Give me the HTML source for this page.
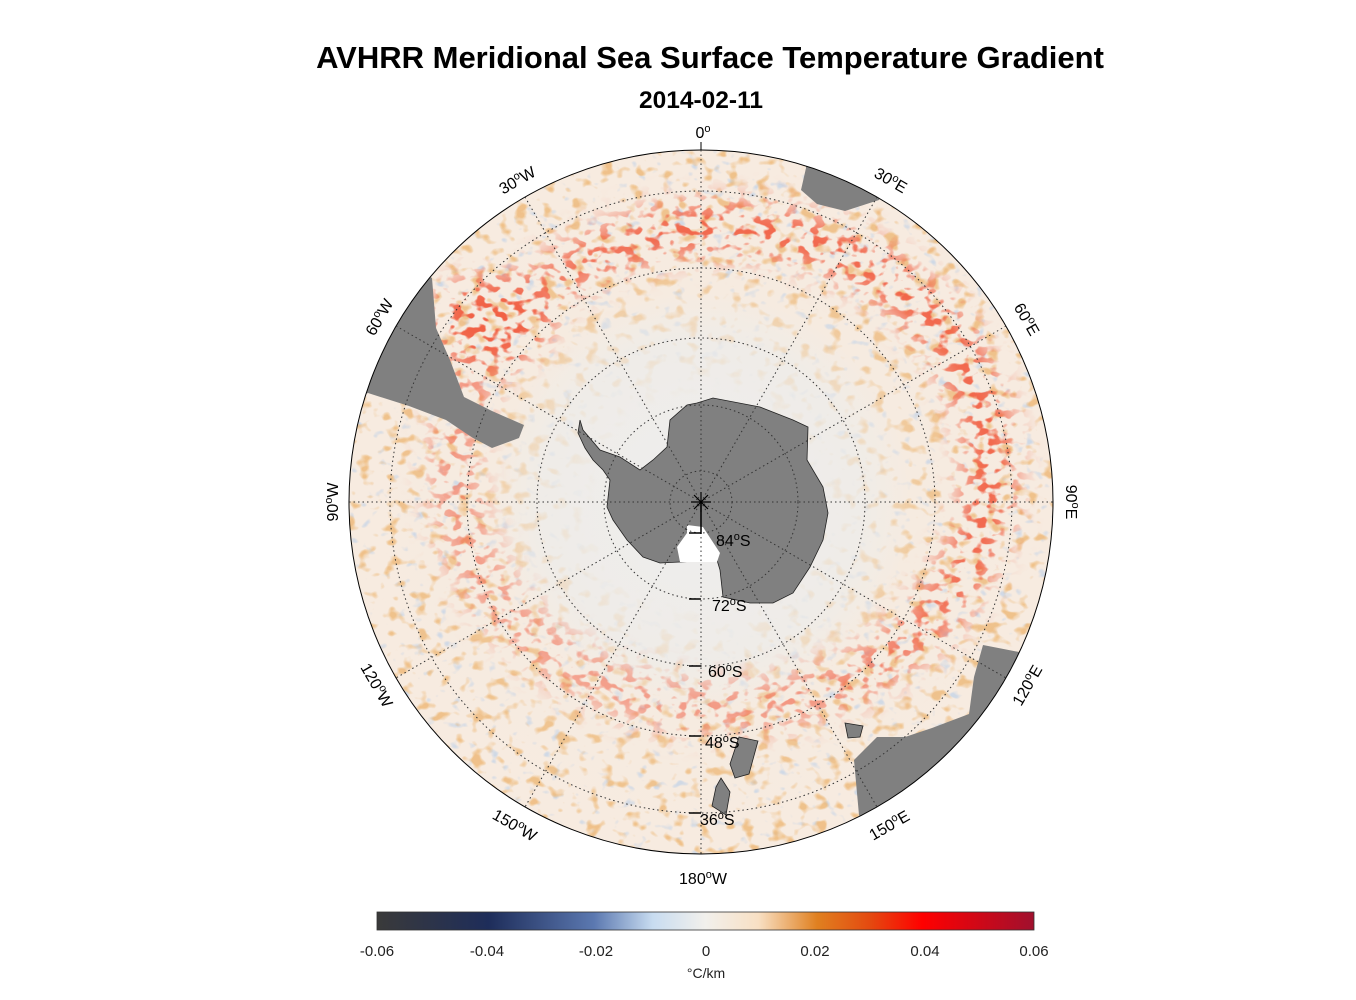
<!DOCTYPE html>
<html><head><meta charset="utf-8"><style>
html,body{margin:0;padding:0;background:#fff;}
svg{display:block;font-family:"Liberation Sans",sans-serif;}
</style></head><body>
<svg width="1356" height="1000" viewBox="0 0 1356 1000" xmlns="http://www.w3.org/2000/svg">
<defs>
<clipPath id="cc"><circle cx="701" cy="502" r="352"/></clipPath>
<radialGradient id="bg" cx="701" cy="502" r="352" gradientUnits="userSpaceOnUse">
<stop offset="0" stop-color="#eeeeee"/><stop offset="0.45" stop-color="#efece8"/><stop offset="0.6" stop-color="#f6ebe0"/><stop offset="1" stop-color="#f7ebe0"/>
</radialGradient>
<radialGradient id="mg" cx="701" cy="502" r="352" gradientUnits="userSpaceOnUse">
<stop offset="0" stop-color="#000"/><stop offset="0.3" stop-color="#000"/><stop offset="0.5" stop-color="#666"/><stop offset="0.65" stop-color="#ddd"/><stop offset="1" stop-color="#fff"/>
</radialGradient>
<linearGradient id="sg" x1="400" y1="800" x2="1000" y2="200" gradientUnits="userSpaceOnUse">
<stop offset="0" stop-color="#777"/><stop offset="0.45" stop-color="#aaa"/><stop offset="0.7" stop-color="#fff"/><stop offset="1" stop-color="#fff"/>
</linearGradient>
<mask id="mo" maskUnits="userSpaceOnUse" x="349" y="150" width="704" height="704"><rect x="349" y="150" width="704" height="704" fill="url(#mg)"/></mask>
<filter id="blur" x="-20%" y="-20%" width="140%" height="140%"><feGaussianBlur stdDeviation="14"/></filter>
<mask id="mb" maskUnits="userSpaceOnUse" x="349" y="150" width="704" height="704">
<ellipse cx="722" cy="468" rx="268" ry="240" fill="none" stroke="url(#sg)" stroke-width="50" filter="url(#blur)"/>
<ellipse cx="490" cy="320" rx="60" ry="45" fill="#fff" filter="url(#blur)"/>
</mask>
<filter id="fo" filterUnits="userSpaceOnUse" x="349" y="150" width="704" height="704">
<feTurbulence type="fractalNoise" baseFrequency="0.07 0.09" numOctaves="2" seed="3"/>
<feColorMatrix type="matrix" values="0 0 0 0 0.85  0 0 0 0 0.47  0 0 0 0 0.17  6 0 0 0 -3.4"/>
</filter>
<filter id="fr" filterUnits="userSpaceOnUse" x="349" y="150" width="704" height="704">
<feTurbulence type="fractalNoise" baseFrequency="0.08 0.11" numOctaves="2" seed="8"/>
<feColorMatrix type="matrix" values="0 0 0 0 0.88  0 0 0 0 0.12  0 0 0 0 0.06  9 0 0 0 -4.8"/>
</filter>
<filter id="fb" filterUnits="userSpaceOnUse" x="349" y="150" width="704" height="704">
<feTurbulence type="fractalNoise" baseFrequency="0.08 0.1" numOctaves="2" seed="21"/>
<feColorMatrix type="matrix" values="0 0 0 0 0.45  0 0 0 0 0.6  0 0 0 0 0.82  6 0 0 0 -3.9"/>
</filter>
<linearGradient id="cb" x1="0" x2="1" y1="0" y2="0">
<stop offset="0" stop-color="#3a3a3a"/><stop offset="0.17" stop-color="#1e2d5a"/><stop offset="0.33" stop-color="#5b78b0"/><stop offset="0.42" stop-color="#c8dcf0"/><stop offset="0.5" stop-color="#f2f0ec"/><stop offset="0.58" stop-color="#f8e0c4"/><stop offset="0.67" stop-color="#e08020"/><stop offset="0.75" stop-color="#e44a10"/><stop offset="0.83" stop-color="#ff0000"/><stop offset="1" stop-color="#a0102e"/>
</linearGradient>
</defs>
<text x="710" y="68" text-anchor="middle" font-size="31" font-weight="bold">AVHRR Meridional Sea Surface Temperature Gradient</text>
<text x="701" y="108" text-anchor="middle" font-size="24.5" font-weight="bold">2014-02-11</text>
<g clip-path="url(#cc)">
<circle cx="701" cy="502" r="352" fill="url(#bg)"/>
<g mask="url(#mo)"><rect x="349" y="150" width="704" height="704" filter="url(#fb)" opacity="0.6"/></g>
<g mask="url(#mo)"><rect x="349" y="150" width="704" height="704" filter="url(#fo)" opacity="0.8"/></g>
<g mask="url(#mb)"><rect x="349" y="150" width="704" height="704" filter="url(#fr)"/></g>
<polygon fill="#808080" points="432,278 436,328 450,360 464,397 492,411 524,425 519,438 492,448 473,438 446,420 409,406 368,393 300,420 300,200"/>
<polygon fill="#808080" points="806,168 801,190 817,204 845,211 879,200 900,150 806,140"/>
<polygon fill="#808080" points="983,645 1019,652 1100,700 900,900 859,815 854,760 877,737 905,737 932,728 969,714 974,677"/>
</g>
<circle cx="701" cy="502" r="352" fill="none" stroke="#000" stroke-width="1"/>
<polygon fill="#808080" stroke="#222" stroke-width="0.8" points="845,723 863,726 860,737 848,738"/>
<polygon fill="#808080" stroke="#222" stroke-width="0.8" points="739,737 758,741 749,774 735,778 730,764"/>
<polygon fill="#808080" stroke="#222" stroke-width="0.8" points="721,778 730,792 726,815 712,806 716,787"/>
<polygon fill="#808080" stroke="#222" stroke-width="0.8" points="697,403 713,398 760,407 793,420 808,427 807,460 823,487 828,513 823,540 810,567 793,593 773,603 750,603 723,597 720,570 717,560 680,562 660,563 643,557 627,540 613,520 607,507 610,480 603,470 593,460 585,448 578,433 580,420 583,430 600,450 620,457 640,470 653,460 667,447 670,420 687,405"/>
<polygon fill="#ffffff" points="687,525 703,527 720,553 717,562 680,562 677,547 687,533"/>
<g fill="none" stroke="#333" stroke-width="1" stroke-dasharray="1.5,3">
<circle cx="701" cy="502" r="31"/><circle cx="701" cy="502" r="97"/><circle cx="701" cy="502" r="164"/><circle cx="701" cy="502" r="234"/><circle cx="701" cy="502" r="311"/>
<line x1="701" y1="150" x2="701" y2="854"/>
<line x1="349" y1="502" x2="1053" y2="502"/>
<line x1="877" y1="197" x2="525" y2="807"/>
<line x1="525" y1="197" x2="877" y2="807"/>
<line x1="396" y1="326" x2="1006" y2="678"/>
<line x1="1006" y1="326" x2="396" y2="678"/>
</g>
<g font-size="16">
<text x="703" y="138" text-anchor="middle">0<tspan dy="-6" font-size="11">o</tspan></text>
<text x="703" y="884" text-anchor="middle">180<tspan dy="-6" font-size="11">o</tspan><tspan dy="6">W</tspan></text>
<text transform="translate(888,185) rotate(30)" text-anchor="middle">30<tspan dy="-6" font-size="11">o</tspan><tspan dy="6">E</tspan></text>
<text transform="translate(1022,322) rotate(60)" text-anchor="middle">60<tspan dy="-6" font-size="11">o</tspan><tspan dy="6">E</tspan></text>
<text transform="translate(1066,502) rotate(90)" text-anchor="middle">90<tspan dy="-6" font-size="11">o</tspan><tspan dy="6">E</tspan></text>
<text transform="translate(1032,688) rotate(-60)" text-anchor="middle">120<tspan dy="-6" font-size="11">o</tspan><tspan dy="6">E</tspan></text>
<text transform="translate(892,830) rotate(-30)" text-anchor="middle">150<tspan dy="-6" font-size="11">o</tspan><tspan dy="6">E</tspan></text>
<text transform="translate(512,830) rotate(30)" text-anchor="middle">150<tspan dy="-6" font-size="11">o</tspan><tspan dy="6">W</tspan></text>
<text transform="translate(372,688) rotate(60)" text-anchor="middle">120<tspan dy="-6" font-size="11">o</tspan><tspan dy="6">W</tspan></text>
<text transform="translate(338,502) rotate(-90)" text-anchor="middle">90<tspan dy="-6" font-size="11">o</tspan><tspan dy="6">W</tspan></text>
<text transform="translate(384,320) rotate(-60)" text-anchor="middle">60<tspan dy="-6" font-size="11">o</tspan><tspan dy="6">W</tspan></text>
<text transform="translate(520,185) rotate(-30)" text-anchor="middle">30<tspan dy="-6" font-size="11">o</tspan><tspan dy="6">W</tspan></text>
<text x="716" y="546">84<tspan dy="-6" font-size="11">o</tspan><tspan dy="6">S</tspan></text>
<text x="712" y="611">72<tspan dy="-6" font-size="11">o</tspan><tspan dy="6">S</tspan></text>
<text x="708" y="677">60<tspan dy="-6" font-size="11">o</tspan><tspan dy="6">S</tspan></text>
<text x="705" y="748">48<tspan dy="-6" font-size="11">o</tspan><tspan dy="6">S</tspan></text>
<text x="700" y="825">36<tspan dy="-6" font-size="11">o</tspan><tspan dy="6">S</tspan></text>
</g>
<g stroke="#000" stroke-width="1.5">
<line x1="701" y1="502" x2="701" y2="534"/>
<line x1="689" y1="533" x2="701" y2="533"/><line x1="689" y1="599" x2="701" y2="599"/><line x1="689" y1="666" x2="701" y2="666"/><line x1="689" y1="736" x2="701" y2="736"/><line x1="689" y1="813" x2="701" y2="813"/>
</g>
<g stroke="#000" stroke-width="1.2"><line x1="691" y1="502" x2="711" y2="502"/><line x1="701" y1="492" x2="701" y2="512"/><line x1="694" y1="495" x2="708" y2="509"/><line x1="708" y1="495" x2="694" y2="509"/></g>
<line x1="701" y1="142" x2="701" y2="150" stroke="#000"/>
<rect x="377" y="912" width="657" height="18" fill="url(#cb)" stroke="#333" stroke-width="0.8"/>
<g font-size="15" fill="#222" text-anchor="middle">
<text x="377" y="956">-0.06</text><text x="487" y="956">-0.04</text><text x="596" y="956">-0.02</text><text x="706" y="956">0</text><text x="815" y="956">0.02</text><text x="925" y="956">0.04</text><text x="1034" y="956">0.06</text>
<text x="706" y="978" font-size="14">°C/km</text>
</g>
</svg>
</body></html>
